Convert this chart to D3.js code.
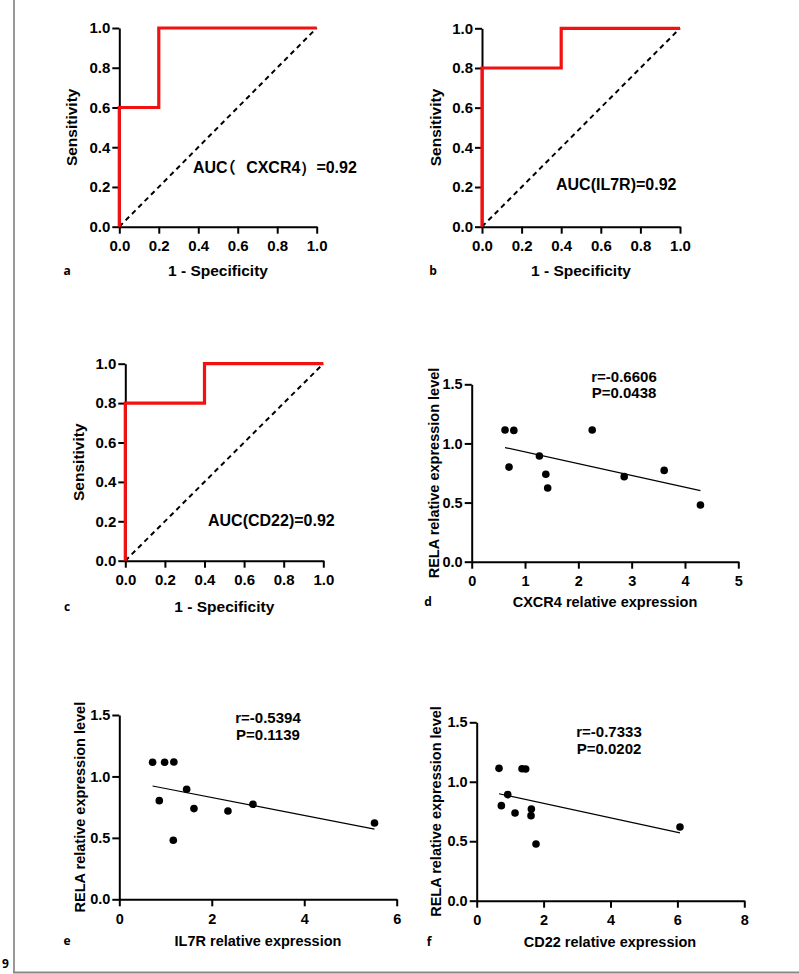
<!DOCTYPE html>
<html><head><meta charset="utf-8">
<script src="https://cdn.jsdelivr.net/npm/d3@7"></script>
<style>
html,body{margin:0;padding:0;background:#fff;}
svg{display:block;}
text{font-family:"Liberation Sans",Arial,sans-serif;font-weight:bold;fill:#000;}
.plab{font-family:"Open Sans","Noto Sans",sans-serif;font-weight:700;}
.halt{font-family:"Noto Sans CJK SC",sans-serif;font-feature-settings:"halt" 1;}
</style>
</head><body>
<svg id="chart" width="799" height="974"></svg>
<script>
// ---------- DATA ----------
const rocTicks = [0, 0.2, 0.4, 0.6, 0.8, 1.0];
const rocA_fpr = [0, 0, 0.2, 0.2, 1];
const rocA_tpr = [0, 0.6, 0.6, 1, 1];
const rocB_fpr = [0, 0, 0.4, 0.4, 1];
const rocB_tpr = [0, 0.8, 0.8, 1, 1];
const rocC_fpr = [0, 0, 0.4, 0.4, 1];
const rocC_tpr = [0, 0.8, 0.8, 1, 1];
const aucLabels = ["AUC（ CXCR4）=0.92", "AUC(IL7R)=0.92", "AUC(CD22)=0.92"];

const relaTicks = [0.0, 0.5, 1.0, 1.5];
const cxcr4X = [0.625, 0.79, 0.70, 1.27, 1.39, 1.425, 2.26, 2.86, 3.61, 4.29];
const cxcr4Y = [1.114, 1.11, 0.80, 0.894, 0.739, 0.623, 1.114, 0.719, 0.772, 0.479];
const cxcr4Ticks = [0, 1, 2, 3, 4, 5];
const il7rX = [0.72, 0.98, 1.18, 0.865, 1.457, 1.615, 1.168, 2.35, 2.89, 5.52];
const il7rY = [1.115, 1.115, 1.117, 0.803, 0.895, 0.738, 0.480, 0.719, 0.773, 0.621];
const il7rTicks = [0, 2, 4, 6];
const cd22X = [0.667, 0.737, 0.927, 1.146, 1.355, 1.464, 1.634, 1.624, 1.773, 6.077];
const cd22Y = [1.113, 0.799, 0.892, 0.737, 1.110, 1.107, 0.771, 0.715, 0.477, 0.620];
const cd22Ticks = [0, 2, 4, 6, 8];
const statsR = ["r=-0.6606", "r=-0.5394", "r=-0.7333"];
const statsP = ["P=0.0438", "P=0.1139", "P=0.0202"];

// ---------- DRAW ----------
const svg = d3.select("#chart");

// frame lines
svg.append("line").attr("x1",14).attr("x2",14).attr("y1",0).attr("y2",973)
  .attr("stroke","#999").attr("stroke-width",2);
svg.append("line").attr("x1",13).attr("x2",799).attr("y1",972.5).attr("y2",972.5)
  .attr("stroke","#888").attr("stroke-width",2);
svg.append("text").attr("x",2).attr("y",968).attr("font-size",12)
  .attr("class","plab").text("9");

function styleAxis(g, fs){
  g.selectAll("path,line").attr("stroke","#000").attr("stroke-width",2);
  g.selectAll("text").attr("font-size",fs).attr("font-family","Liberation Sans, Arial, sans-serif")
    .attr("font-weight","bold").attr("fill","#000");
}

function rocPanel(o){
  const x = d3.scaleLinear().domain([0,1]).range([o.x0,o.x1]);
  const y = d3.scaleLinear().domain([0,1]).range([o.yb,o.yt]);
  const gx = svg.append("g").attr("transform",`translate(0,${o.yb})`)
    .call(d3.axisBottom(x).tickValues(rocTicks).tickFormat(d3.format(".1f")).tickSize(7).tickSizeOuter(0).tickPadding(7));
  styleAxis(gx,15);
  gx.selectAll("text").attr("dy","0.71em");
  const gy = svg.append("g").attr("transform",`translate(${o.x0},0)`)
    .call(d3.axisLeft(y).tickValues(rocTicks).tickFormat(d3.format(".1f")).tickSize(7).tickSizeOuter(0).tickPadding(2));
  styleAxis(gy,15);
  // diagonal
  svg.append("line").attr("x1",x(0)).attr("y1",y(0)).attr("x2",x(1)).attr("y2",y(1))
    .attr("stroke","#000").attr("stroke-width",2).attr("stroke-dasharray","5,4");
  // roc curve
  const pts = o.fpr.map((f,i)=>[f,o.tpr[i]]);
  svg.append("path").datum(pts)
    .attr("d",d3.line().x(d=>x(d[0])).y(d=>y(d[1])))
    .attr("fill","none").attr("stroke","#f21010").attr("stroke-width",3.2);
  const t = svg.append("text").attr("x",o.aucX).attr("y",o.aucY).attr("font-size",16);
  if (o.auc.indexOf("（") >= 0) {
    const parts = o.auc.split(/(（|）)/);
    // AUC, （, " CXCR4", ）, =0.92
    t.append("tspan").text(parts[0]);
    t.append("tspan").attr("class","halt").text(parts[1]);
    t.append("tspan").attr("dx",6).text(parts[2]);
    t.append("tspan").text(parts[3]);
    t.append("tspan").text(parts[4]);
  } else {
    t.text(o.auc);
  }
  svg.append("text").attr("transform",`translate(${o.ytX},${(o.yb+o.yt)/2}) rotate(-90)`)
    .attr("text-anchor","middle").attr("font-size",15.5).text("Sensitivity");
  svg.append("text").attr("x",(o.x0+o.x1)/2).attr("y",o.xtY).attr("text-anchor","middle")
    .attr("font-size",15.5).text("1 - Specificity");
  svg.append("text").attr("class","plab").attr("x",o.lx).attr("y",o.xtY-1).attr("text-anchor","middle")
    .attr("font-size",12).text(o.letter);
}

function scatterPanel(o){
  const x = d3.scaleLinear().domain([0,o.xTicks[o.xTicks.length-1]]).range([o.x0,o.x1]);
  const y = d3.scaleLinear().domain([0,1.5]).range([o.yb,o.yt]);
  const gx = svg.append("g").attr("transform",`translate(0,${o.yb})`)
    .call(d3.axisBottom(x).tickValues(o.xTicks).tickFormat(d3.format("d")).tickSize(7).tickSizeOuter(0).tickPadding(7));
  styleAxis(gx,14.5);
  gx.selectAll("text").attr("dy","0.71em");
  const gy = svg.append("g").attr("transform",`translate(${o.x0},0)`)
    .call(d3.axisLeft(y).tickValues(relaTicks).tickFormat(d3.format(".1f")).tickSize(7).tickSizeOuter(0).tickPadding(2));
  styleAxis(gy,14.5);
  // regression line (least squares from data)
  const mx = d3.mean(o.xs), my = d3.mean(o.ys);
  let sxy=0, sxx=0;
  o.xs.forEach((v,i)=>{sxy+=(v-mx)*(o.ys[i]-my); sxx+=(v-mx)*(v-mx);});
  const b = sxy/sxx, a = my - b*mx;
  const [xa,xb] = d3.extent(o.xs);
  svg.append("line").attr("x1",x(xa)).attr("y1",y(a+b*xa)).attr("x2",x(xb)).attr("y2",y(a+b*xb))
    .attr("stroke","#000").attr("stroke-width",1.2);
  svg.append("g").selectAll("circle").data(o.xs.map((v,i)=>[v,o.ys[i]])).join("circle")
    .attr("cx",d=>x(d[0])).attr("cy",d=>y(d[1])).attr("r",3.8).attr("fill","#000");
  svg.append("text").attr("x",o.sx).attr("y",o.sy).attr("text-anchor","middle").attr("font-size",15).text(o.r);
  svg.append("text").attr("x",o.sx).attr("y",o.sy+16.5).attr("text-anchor","middle").attr("font-size",15).text(o.p);
  svg.append("text").attr("transform",`translate(${o.ytX},${(o.yb+o.yt)/2}) rotate(-90)`)
    .attr("text-anchor","middle").attr("font-size",14.5).text("RELA relative expression level");
  svg.append("text").attr("x",o.xtX).attr("y",o.xtY).attr("text-anchor","middle")
    .attr("font-size",14.5).text(o.xTitle);
  svg.append("text").attr("class","plab").attr("x",o.lx).attr("y",o.xtY-1).attr("text-anchor","middle")
    .attr("font-size",12).text(o.letter);
}

rocPanel({x0:119.3,x1:316.7,yb:226.7,yt:28,fpr:rocA_fpr,tpr:rocA_tpr,auc:aucLabels[0],
  aucX:193,aucY:172.5,ytX:77,xtY:275.5,lx:67,letter:"a"});
rocPanel({x0:482,x1:680,yb:226.7,yt:28.3,fpr:rocB_fpr,tpr:rocB_tpr,auc:aucLabels[1],
  aucX:556,aucY:189.5,ytX:441,xtY:275.5,lx:433,letter:"b"});
rocPanel({x0:125.3,x1:323.3,yb:560.7,yt:363.7,fpr:rocC_fpr,tpr:rocC_tpr,auc:aucLabels[2],
  aucX:208,aucY:525.5,ytX:84,xtY:611.5,lx:67,letter:"c"});

scatterPanel({x0:471.7,x1:738.3,yb:561.7,yt:384.3,xs:cxcr4X,ys:cxcr4Y,xTicks:cxcr4Ticks,
  r:statsR[0],p:statsP[0],sx:624,sy:381.7,ytX:439,xtX:605,xtY:606.7,xTitle:"CXCR4 relative expression",lx:428,letter:"d"});
scatterPanel({x0:119.3,x1:396.7,yb:899.3,yt:715,xs:il7rX,ys:il7rY,xTicks:il7rTicks,
  r:statsR[1],p:statsP[1],sx:268,sy:723.3,ytX:85,xtX:258,xtY:945.7,xTitle:"IL7R relative expression",lx:67,letter:"e"});
scatterPanel({x0:476.7,x1:744.3,yb:900.7,yt:722.3,xs:cd22X,ys:cd22Y,xTicks:cd22Ticks,
  r:statsR[2],p:statsP[2],sx:609,sy:737.3,ytX:441,xtX:610,xtY:946.7,xTitle:"CD22 relative expression",lx:429,letter:"f"});
</script>
</body></html>
